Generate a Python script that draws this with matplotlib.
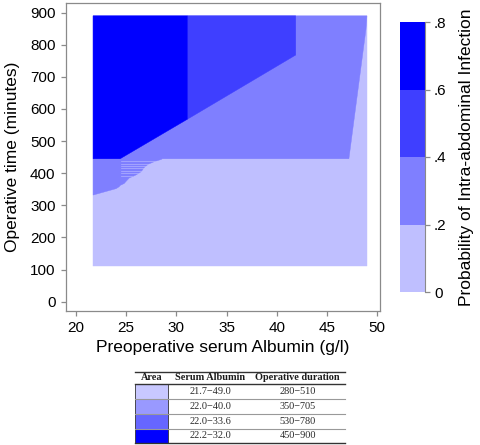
import matplotlib
matplotlib.use("Agg")
import matplotlib.pyplot as plt
from matplotlib.patches import Polygon, Rectangle

plt.rcParams['font.family'] = ['Liberation Sans', 'DejaVu Sans']

# probability bands (colour levels)
levels = [0, 0.2, 0.4, 0.6, 0.8]
level_labels = ["0", ".2", ".4", ".6", ".8"]
band_colors = ["#bfbfff", "#7f7fff", "#3f3fff", "#0000ff"]

# region outlines: (albumin g/l, minutes)
area0 = [(21.7, 110), (49.0, 110), (49.0, 890), (21.7, 890)]
area1 = [(21.7, 332), (24.0, 352), (24.3, 358), (24.4, 362), (24.8, 368),
         (25.0, 375), (25.3, 385), (26.0, 395), (26.5, 405), (26.8, 418),
         (27.2, 428), (27.8, 436), (28.5, 443), (28.6, 445), (47.2, 445),
         (48.9, 848), (49.0, 890), (21.7, 890)]
area2 = [(31.1, 568), (41.9, 768), (41.9, 890), (31.1, 890)]
area3 = [(21.7, 445), (24.4, 445), (31.1, 568), (31.1, 890), (21.7, 890)]
areas = [area0, area1, area2, area3]

# light stripes inside the stepped edge
stripe_y = [392, 400, 408, 415, 422, 430, 437]
stripe_x = [25.6, 26.2, 26.6, 26.8, 27.1, 27.6, 28.0]

xticks = [20, 25, 30, 35, 40, 45, 50]
yticks = [0, 100, 200, 300, 400, 500, 600, 700, 800, 900]

# summary table
table_cols = ["Area", "Serum Albumin", "Operative duration"]
table_albumin = ["21.7\u221249.0", "22.0\u221240.0", "22.0\u221233.6", "22.2\u221232.0"]
table_duration = ["280\u2212510", "350\u2212705", "530\u2212780", "450\u2212900"]
table_colors = ["#c8c8ff", "#9999ff", "#6666ff", "#0000ff"]

fig = plt.figure(figsize=(4.8, 4.45), dpi=100)
ax = fig.add_axes([66/480, 1-311/445, 314/480, 308/445])

for pts, c in zip(areas, band_colors):
    ax.add_patch(Polygon(pts, closed=True, facecolor=c, edgecolor=c, lw=0.3))
for y, x in zip(stripe_y, stripe_x):
    ax.plot([24.5, x], [y, y], color=band_colors[0], lw=0.5, alpha=0.8)

ax.set_xlim(19.0, 50.3)
ax.set_ylim(-29, 930)
ax.set_xticks(xticks)
ax.set_yticks(yticks)
for s in ax.spines.values():
    s.set_color("#8a8a8a")
    s.set_linewidth(0.9)
ax.tick_params(colors="#8a8a8a", labelcolor="black", labelsize=11, length=3.5, width=0.9, pad=4)
ax.set_xlabel("Preoperative serum Albumin (g/l)", fontsize=12.5)
ax.set_ylabel("Operative time (minutes)", fontsize=12.5)
ax.xaxis.set_label_coords(0.5, -0.095)
ax.yaxis.set_label_coords(-0.145, 0.5)

# colour key
cax = fig.add_axes([400/480, 1-292/445, 25/480, 270/445])
cax.bar(0, 0.2, bottom=levels[:-1], width=1, color=band_colors, align="center")
cax.set_xlim(-0.5, 0.5)
cax.set_ylim(0, 0.8)
cax.set_xticks([])
cax.set_yticks(levels)
cax.set_yticklabels(level_labels)
cax.yaxis.tick_right()
for k in ["left", "top", "bottom"]:
    cax.spines[k].set_visible(False)
cax.spines["right"].set_color("#8a8a8a")
cax.tick_params(colors="#8a8a8a", labelcolor="black", labelsize=11, length=3.5, width=0.9, pad=3)
cax.set_ylabel("Probability of Intra-abdominal Infection", fontsize=12.5, rotation=90, va="center")
cax.yaxis.set_label_position("right")
cax.yaxis.set_label_coords(2.35, 0.5)

# table under the plot
tax = fig.add_axes([135/480, 1-443/445, 210/480, 71/445])
tax.set_xlim(135, 345)
tax.set_ylim(443, 372)
tax.axis("off")
row_edges = [372, 384, 399, 414, 428.5, 443]
col_centers = [151.5, 210, 297.5]
for i, name in enumerate(table_cols):
    tax.text(col_centers[i], (row_edges[0] + row_edges[1]) / 2, name, ha="center", va="center",
             family="Liberation Serif", fontweight="bold", fontsize=7.4, color="#1a1a1a")
for r in range(4):
    y0, y1 = row_edges[r + 1], row_edges[r + 2]
    tax.add_patch(Rectangle((135, y0), 33, y1 - y0, facecolor=table_colors[r],
                            edgecolor="#333333", lw=0.6))
    tax.text(col_centers[1], (y0 + y1) / 2, table_albumin[r], ha="center", va="center",
             family="Liberation Serif", fontsize=7.4, color="#2a2a2a")
    tax.text(col_centers[2], (y0 + y1) / 2, table_duration[r], ha="center", va="center",
             family="Liberation Serif", fontsize=7.4, color="#2a2a2a")
for j, y in enumerate(row_edges):
    dark = j in (0, 1, len(row_edges) - 1)
    tax.plot([135, 345], [y, y], color="#333333" if dark else "#999999",
             lw=1.0 if dark else 0.8, clip_on=False)

fig.savefig("out.png", dpi=100)
